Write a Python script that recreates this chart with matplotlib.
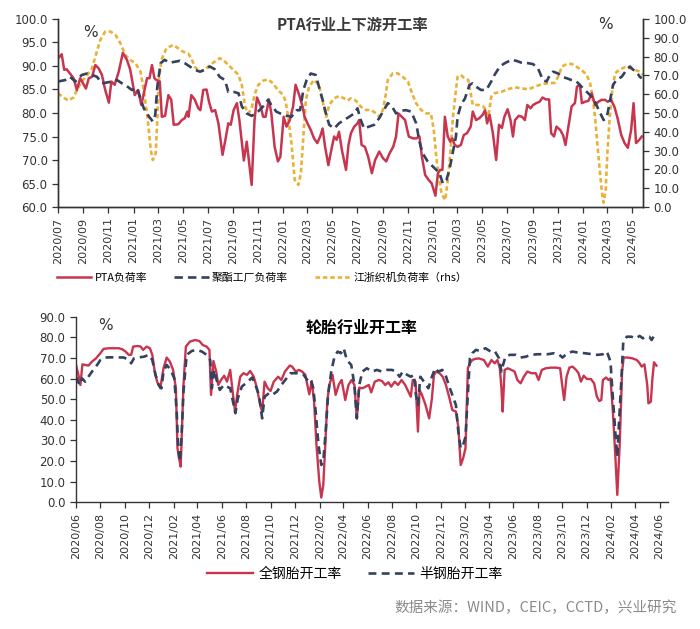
import matplotlib
matplotlib.use("Agg")
import matplotlib.pyplot as plt
import matplotlib.dates as mdates
import pandas as pd

plt.rcParams['font.family'] = ['DejaVu Sans', 'Noto Sans CJK SC']
CJK = ['Noto Sans CJK SC', 'DejaVu Sans']

# ---------------- top chart data ----------------
pta_dates = ["2020-07-01","2020-07-10","2020-07-16","2020-07-22","2020-07-30","2020-08-08","2020-08-16","2020-08-24",
"2020-09-02","2020-09-07","2020-09-14","2020-09-22","2020-09-30","2020-10-08","2020-10-16","2020-10-24","2020-11-02",
"2020-11-08","2020-11-16","2020-11-26","2020-12-06","2020-12-16","2020-12-24","2021-01-04","2021-01-12","2021-01-20",
"2021-01-28","2021-02-03","2021-02-09","2021-02-15","2021-02-21","2021-02-26","2021-03-06","2021-03-11","2021-03-19",
"2021-03-27","2021-04-03","2021-04-09","2021-04-20","2021-04-29","2021-05-06","2021-05-12","2021-05-15","2021-05-22",
"2021-05-30","2021-06-08","2021-06-13","2021-06-20","2021-06-28","2021-07-04","2021-07-11","2021-07-19","2021-07-27",
"2021-08-06","2021-08-13","2021-08-20","2021-08-26","2021-09-02","2021-09-10","2021-09-16","2021-09-27","2021-10-04",
"2021-10-16","2021-10-23","2021-10-29","2021-11-07","2021-11-13","2021-11-19","2021-11-27","2021-12-03","2021-12-11",
"2021-12-19","2021-12-25","2022-01-02","2022-01-09","2022-01-17","2022-01-25","2022-01-31","2022-02-09","2022-02-17",
"2022-02-22","2022-03-01","2022-03-09","2022-03-17","2022-03-25","2022-04-01","2022-04-07","2022-04-13","2022-04-21",
"2022-04-29","2022-05-05","2022-05-11","2022-05-17","2022-05-24","2022-06-03","2022-06-09","2022-06-15","2022-06-23",
"2022-07-01","2022-07-05","2022-07-11","2022-07-19","2022-07-27","2022-08-05","2022-08-13","2022-08-23","2022-09-01",
"2022-09-09","2022-09-17","2022-09-26","2022-10-03","2022-10-09","2022-10-17","2022-10-25","2022-11-03","2022-11-13",
"2022-11-21","2022-11-29","2022-12-05","2022-12-13","2022-12-21","2022-12-29","2023-01-07","2023-01-13","2023-01-19",
"2023-01-24","2023-01-30","2023-02-06","2023-02-12","2023-02-17","2023-02-23","2023-03-02","2023-03-10","2023-03-17",
"2023-03-25","2023-04-03","2023-04-08","2023-04-16","2023-04-24","2023-05-02","2023-05-08","2023-05-13","2023-05-19",
"2023-05-27","2023-06-04","2023-06-11","2023-06-18","2023-06-24","2023-07-02","2023-07-09","2023-07-15","2023-07-20",
"2023-07-29","2023-08-06","2023-08-13","2023-08-19","2023-08-27","2023-09-02","2023-09-10","2023-09-18","2023-09-25",
"2023-10-03","2023-10-11","2023-10-16","2023-10-23","2023-10-29","2023-11-07","2023-11-14","2023-11-20","2023-11-28",
"2023-12-05","2023-12-13","2023-12-18","2023-12-25","2023-12-30","2024-01-07","2024-01-15","2024-01-23","2024-01-31",
"2024-02-08","2024-02-16","2024-02-24","2024-03-02","2024-03-10","2024-03-18","2024-03-26","2024-04-04","2024-04-12",
"2024-04-20","2024-04-28","2024-05-04","2024-05-10","2024-05-18","2024-05-24"]
pta_vals = [91.6,92.5,89.2,89.3,88.4,87.4,84.9,87.4,86.0,85.2,87.4,87.7,90.2,89.5,88.1,84.9,82.2,86.7,86.0,88.8,92.8,91.3,
89.2,83.8,84.9,81.7,84.9,87.4,87.4,90.2,87.4,87.0,86.7,79.2,79.4,83.8,82.8,77.5,77.6,78.5,78.9,80.3,79.2,83.8,82.9,81.0,
80.6,84.9,85.0,82.4,80.3,80.6,77.8,71.1,74.3,77.8,77.5,80.6,82.1,78.5,69.9,73.9,64.7,78.5,83.3,81.4,79.2,79.2,82.9,79.9,
72.8,69.7,70.7,79.2,77.1,78.5,81.4,86.0,83.8,81.4,79.2,77.8,76.4,74.6,73.6,75.0,76.7,72.8,68.9,72.5,75.0,74.3,76.0,72.1,
67.9,73.2,75.7,77.1,77.8,78.5,73.2,72.8,70.7,67.2,70.0,71.8,70.4,69.7,71.4,72.8,75.0,79.9,79.2,78.5,75.0,74.6,74.6,75.0,
70.7,66.8,65.8,65.0,62.4,67.2,67.9,67.9,79.2,75.0,73.9,74.6,73.2,72.8,73.2,75.3,75.7,77.1,80.3,78.5,78.9,79.6,80.6,77.8,
79.6,75.7,70.0,77.5,76.8,79.2,80.8,78.5,75.0,78.5,79.4,79.2,78.5,81.7,81.0,81.7,82.1,82.4,83.3,82.9,82.9,75.7,75.0,77.1,
76.4,75.3,73.2,77.5,81.4,82.1,85.6,86.0,82.1,82.4,82.6,84.2,81.7,82.4,82.8,82.8,82.4,82.8,81.4,78.9,75.3,73.6,72.6,76.4,
82.1,73.6,74.3,75.0]

poly_dates = ["2020-07-01","2020-07-18","2020-07-30","2020-08-12","2020-08-28","2020-09-10","2020-09-22","2020-10-04",
"2020-10-16","2020-10-28","2020-11-10","2020-11-22","2020-12-04","2020-12-16","2020-12-28","2021-01-10","2021-01-18",
"2021-01-26","2021-02-08","2021-02-17","2021-02-23","2021-02-28","2021-03-08","2021-03-18","2021-03-30","2021-04-12",
"2021-04-24","2021-05-06","2021-05-18","2021-05-30","2021-06-12","2021-06-24","2021-07-06","2021-07-18","2021-07-30",
"2021-08-12","2021-08-20","2021-09-02","2021-09-14","2021-09-22","2021-10-04","2021-10-16","2021-10-27","2021-11-13",
"2021-11-25","2021-12-03","2021-12-15","2021-12-27","2022-01-09","2022-01-21","2022-02-03","2022-02-11","2022-02-19",
"2022-02-27","2022-03-09","2022-03-21","2022-03-29","2022-04-07","2022-04-15","2022-04-23","2022-05-05","2022-05-17",
"2022-05-29","2022-06-11","2022-06-23","2022-07-01","2022-07-09","2022-07-17","2022-07-29","2022-08-11","2022-08-23",
"2022-09-01","2022-09-13","2022-09-23","2022-10-03","2022-10-15","2022-10-27","2022-11-09","2022-11-21","2022-11-29",
"2022-12-07","2022-12-19","2023-01-01","2023-01-09","2023-01-17","2023-01-25","2023-02-03","2023-02-10","2023-02-18",
"2023-02-26","2023-03-02","2023-03-10","2023-03-20","2023-03-31","2023-04-08","2023-04-16","2023-04-28","2023-05-11",
"2023-05-23","2023-05-31","2023-06-13","2023-06-25","2023-07-11","2023-07-23","2023-08-05","2023-08-21","2023-09-02",
"2023-09-14","2023-09-26","2023-10-05","2023-10-13","2023-10-21","2023-11-02","2023-11-11","2023-11-23","2023-12-05",
"2023-12-17","2023-12-29","2024-01-11","2024-01-19","2024-01-27","2024-02-05","2024-02-13","2024-02-21","2024-02-29",
"2024-03-07","2024-03-15","2024-03-23","2024-04-05","2024-04-17","2024-04-25","2024-05-03","2024-05-11","2024-05-19",
"2024-05-24"]
poly_vals = [86.7,87.0,87.7,86.7,88.1,88.4,88.1,87.7,86.3,86.5,86.7,87.0,86.3,85.7,84.9,85.3,83.1,81.0,79.2,78.2,79.6,
85.6,90.6,91.3,90.7,90.9,91.1,90.6,89.9,89.2,88.8,89.2,89.9,89.3,87.7,87.0,84.5,84.5,84.2,81.4,79.9,79.4,79.9,81.4,82.8,
81.7,80.3,79.8,79.4,79.2,80.6,80.6,84.9,87.0,88.4,88.1,85.6,82.8,79.9,77.5,76.7,77.8,78.5,79.2,79.9,81.0,78.5,76.7,77.1,
77.5,78.9,80.3,82.1,81.4,79.9,80.5,80.6,80.3,77.8,73.9,71.4,69.7,68.6,67.9,67.2,65.0,65.8,67.9,71.4,75.0,79.2,81.7,83.1,
86.0,86.3,85.6,84.9,84.9,86.7,88.1,89.9,90.6,91.3,91.1,90.7,90.6,90.4,89.5,87.0,86.7,88.1,88.8,88.4,87.7,87.4,87.0,86.7,
85.6,84.5,83.8,83.1,81.4,79.9,78.5,79.2,82.4,86.0,87.0,87.7,89.2,89.9,89.2,88.8,87.7,87.4]

loom_dates = ["2020-07-01","2020-07-14","2020-07-26","2020-08-08","2020-08-16","2020-08-28","2020-09-10","2020-09-22",
"2020-09-30","2020-10-12","2020-10-24","2020-11-06","2020-11-18","2020-11-30","2020-12-12","2020-12-24","2021-01-06",
"2021-01-18","2021-01-26","2021-02-04","2021-02-12","2021-02-17","2021-02-24","2021-02-28","2021-03-03","2021-03-10",
"2021-03-22","2021-04-08","2021-04-20","2021-05-02","2021-05-14","2021-05-22","2021-05-30","2021-06-12","2021-06-24",
"2021-07-06","2021-07-18","2021-07-30","2021-08-08","2021-08-20","2021-09-02","2021-09-14","2021-09-22","2021-09-30",
"2021-10-08","2021-10-16","2021-10-23","2021-11-01","2021-11-13","2021-11-25","2021-12-07","2021-12-19","2022-01-01",
"2022-01-07","2022-01-13","2022-01-21","2022-01-29","2022-02-07","2022-02-13","2022-02-19","2022-02-25","2022-03-05",
"2022-03-17","2022-03-29","2022-04-08","2022-04-16","2022-04-23","2022-05-05","2022-05-17","2022-05-29","2022-06-07",
"2022-06-15","2022-06-27","2022-07-09","2022-07-21","2022-08-03","2022-08-15","2022-08-23","2022-09-01","2022-09-07",
"2022-09-13","2022-09-25","2022-10-07","2022-10-19","2022-11-01","2022-11-11","2022-11-21","2022-12-03","2022-12-15",
"2022-12-27","2023-01-03","2023-01-09","2023-01-15","2023-01-21","2023-01-26","2023-01-31","2023-02-07","2023-02-13",
"2023-02-18","2023-02-25","2023-03-02","2023-03-10","2023-03-19","2023-03-28","2023-04-03","2023-04-08","2023-04-21",
"2023-05-02","2023-05-11","2023-05-16","2023-05-23","2023-05-31","2023-06-17","2023-07-02","2023-07-19","2023-08-05",
"2023-08-21","2023-09-07","2023-09-23","2023-10-09","2023-10-25","2023-11-02","2023-11-11","2023-11-23","2023-12-05",
"2023-12-17","2023-12-29","2024-01-11","2024-01-19","2024-01-25","2024-01-31","2024-02-07","2024-02-13","2024-02-18",
"2024-02-21","2024-02-26","2024-03-01","2024-03-07","2024-03-13","2024-03-20","2024-03-31","2024-04-13","2024-04-25",
"2024-05-07","2024-05-19","2024-05-27"]
loom_vals = [60.5,58.3,56.6,58.3,62.2,66.7,70.2,73.8,80.0,88.8,93.3,93.3,91.5,87.1,80.9,78.2,76.4,72.0,62.2,48.0,30.3,
25.0,28.5,46.3,65.8,78.2,84.4,86.2,84.4,82.6,81.7,79.1,74.6,72.0,72.9,75.5,77.3,79.1,78.2,75.5,72.9,70.2,64.9,53.4,49.8,
52.5,59.6,64.9,67.2,67.9,65.8,62.2,59.6,56.0,48.0,33.9,14.4,11.7,17.9,37.4,56.9,64.0,67.6,64.9,55.1,48.0,54.3,57.8,59.0,
57.8,56.6,57.8,56.6,53.4,51.6,51.6,49.8,48.0,51.6,58.7,67.6,71.1,71.1,69.3,66.7,60.5,55.1,51.6,49.8,49.8,41.0,26.8,16.1,
8.2,5.5,3.7,16.1,30.3,46.3,60.5,69.3,70.2,68.4,67.6,60.5,54.3,54.3,53.7,51.6,48.0,58.7,60.5,61.3,62.6,63.7,63.1,62.6,
64.0,65.4,65.8,66.1,69.3,74.6,76.1,76.1,74.6,72.9,70.2,65.8,58.7,48.0,30.3,16.1,5.5,2.3,9.0,28.5,48.0,62.2,71.1,73.2,
74.3,73.8,72.9,72.0,70.2]

# ---------------- bottom chart data ----------------
allsteel_dates = ["2020-06-01","2020-06-08","2020-06-12","2020-06-17","2020-06-24","2020-07-02","2020-07-11","2020-07-21",
"2020-08-01","2020-08-09","2020-08-22","2020-09-04","2020-09-16","2020-09-25","2020-10-03","2020-10-11","2020-10-17",
"2020-10-22","2020-11-02","2020-11-10","2020-11-16","2020-11-25","2020-12-03","2020-12-09","2020-12-15","2020-12-21",
"2020-12-29","2021-01-06","2021-01-14","2021-01-22","2021-01-30","2021-02-06","2021-02-10","2021-02-14","2021-02-18",
"2021-02-21","2021-02-25","2021-03-03","2021-03-13","2021-03-26","2021-04-06","2021-04-14","2021-04-24","2021-05-01",
"2021-05-05","2021-05-11","2021-05-18","2021-05-23","2021-05-30","2021-06-07","2021-06-14","2021-06-22","2021-06-29",
"2021-07-04","2021-07-10","2021-07-17","2021-07-25","2021-08-03","2021-08-11","2021-08-20","2021-08-28","2021-09-06",
"2021-09-10","2021-09-16","2021-09-24","2021-10-01","2021-10-09","2021-10-20","2021-10-28","2021-11-06","2021-11-18",
"2021-11-24","2021-12-03","2021-12-11","2021-12-19","2021-12-27","2022-01-06","2022-01-12","2022-01-18","2022-01-24",
"2022-01-31","2022-02-05","2022-02-10","2022-02-15","2022-02-20","2022-02-25","2022-03-05","2022-03-13","2022-03-21",
"2022-03-28","2022-04-06","2022-04-14","2022-04-22","2022-04-29","2022-05-05","2022-05-11","2022-05-19","2022-05-27",
"2022-06-04","2022-06-10","2022-06-19","2022-06-29","2022-07-07","2022-07-15","2022-07-23","2022-07-30","2022-08-08",
"2022-08-16","2022-08-25","2022-09-03","2022-09-11","2022-09-17","2022-09-22","2022-09-29","2022-10-05","2022-10-09",
"2022-10-15","2022-10-24","2022-11-02","2022-11-09","2022-11-14","2022-11-20","2022-11-28","2022-12-06","2022-12-14",
"2022-12-23","2022-12-30","2023-01-08","2023-01-14","2023-01-20","2023-01-26","2023-02-01","2023-02-07","2023-02-12",
"2023-02-18","2023-02-25","2023-03-06","2023-03-19","2023-03-29","2023-04-07","2023-04-15","2023-04-22","2023-04-28",
"2023-05-02","2023-05-05","2023-05-10","2023-05-18","2023-05-27","2023-06-04","2023-06-11","2023-06-19","2023-06-27",
"2023-07-06","2023-07-16","2023-07-27","2023-08-03","2023-08-11","2023-08-21","2023-09-03","2023-09-16","2023-09-26",
"2023-10-01","2023-10-06","2023-10-12","2023-10-19","2023-10-27","2023-11-05","2023-11-11","2023-11-17","2023-11-24",
"2023-12-02","2023-12-12","2023-12-20","2023-12-27","2024-01-02","2024-01-07","2024-01-11","2024-01-19","2024-01-25",
"2024-01-30","2024-02-05","2024-02-11","2024-02-16","2024-02-22","2024-02-28","2024-03-03","2024-03-13","2024-03-25",
"2024-04-05","2024-04-12","2024-04-17","2024-04-24","2024-05-01","2024-05-04","2024-05-10","2024-05-14","2024-05-18",
"2024-05-24"]
allsteel_vals = [66.6,60.9,56.9,66.9,66.6,66.3,68.2,69.8,72.3,74.4,74.7,74.7,74.7,74.2,73.1,71.5,71.5,75.5,75.8,75.5,
73.9,75.5,74.7,71.5,63.4,58.5,55.3,65.0,70.2,68.2,64.2,55.3,26.2,21.3,17.3,34.3,56.9,75.5,77.9,78.7,78.2,76.3,75.5,73.9,
52.1,68.5,63.4,56.9,59.3,61.4,58.5,64.2,52.1,44.0,52.9,60.9,62.6,61.8,63.7,60.9,55.3,46.4,44.0,58.5,55.3,54.0,58.5,60.9,
59.3,63.4,66.3,65.8,63.4,64.2,63.4,61.8,52.4,58.8,48.8,27.8,10.0,2.3,8.4,27.8,48.8,56.9,61.8,52.1,57.2,59.3,49.6,56.9,
59.3,56.9,40.7,55.6,55.3,56.1,56.9,53.3,58.5,59.3,58.8,56.9,58.2,56.1,58.5,56.9,59.3,56.9,53.7,51.2,59.3,58.5,34.3,54.5,
52.1,47.2,40.7,50.4,61.8,63.4,62.6,60.9,56.9,50.4,44.8,44.0,36.7,18.1,21.3,26.2,65.0,67.4,69.0,69.5,69.8,69.0,65.8,69.0,
67.4,69.0,65.0,55.3,44.0,64.2,65.0,64.2,63.4,59.3,57.7,60.9,63.4,62.6,62.6,59.3,64.2,65.0,65.3,65.3,65.0,56.9,49.6,60.9,
65.3,65.8,64.2,62.6,58.5,61.4,59.8,59.8,57.7,51.2,49.1,49.6,59.3,60.5,59.3,60.1,44.0,23.0,3.6,27.8,63.4,70.2,70.2,69.8,
69.0,67.4,65.8,66.9,56.9,48.0,48.8,60.1,67.9,66.3]

semisteel_dates = ["2020-06-01","2020-06-10","2020-06-16","2020-06-24","2020-07-02","2020-07-11","2020-07-21","2020-08-01",
"2020-08-13","2020-08-26","2020-09-12","2020-09-29","2020-10-11","2020-10-17","2020-10-24","2020-11-06","2020-11-18",
"2020-11-30","2020-12-09","2020-12-17","2020-12-25","2021-01-01","2021-01-06","2021-01-14","2021-01-24","2021-02-02",
"2021-02-08","2021-02-12","2021-02-16","2021-02-20","2021-02-25","2021-03-05","2021-03-18","2021-03-30","2021-04-12",
"2021-04-24","2021-05-03","2021-05-07","2021-05-13","2021-05-19","2021-05-27","2021-06-06","2021-06-14","2021-06-22",
"2021-06-29","2021-07-05","2021-07-11","2021-07-21","2021-08-03","2021-08-16","2021-08-24","2021-09-02","2021-09-10",
"2021-09-16","2021-09-27","2021-10-05","2021-10-17","2021-10-28","2021-11-10","2021-11-20","2021-12-01","2021-12-11",
"2021-12-23","2022-01-04","2022-01-10","2022-01-16","2022-01-22","2022-01-29","2022-02-05","2022-02-10","2022-02-16",
"2022-02-22","2022-03-02","2022-03-10","2022-03-18","2022-03-26","2022-04-02","2022-04-10","2022-04-21","2022-04-29",
"2022-05-05","2022-05-11","2022-05-19","2022-05-30","2022-06-12","2022-06-24","2022-07-07","2022-07-19","2022-08-01",
"2022-08-11","2022-08-20","2022-08-28","2022-09-08","2022-09-17","2022-09-25","2022-09-30","2022-10-05","2022-10-11",
"2022-10-20","2022-10-31","2022-11-09","2022-11-17","2022-11-25","2022-12-05","2022-12-13","2022-12-21","2022-12-30",
"2023-01-08","2023-01-14","2023-01-20","2023-01-26","2023-02-01","2023-02-07","2023-02-12","2023-02-18","2023-02-27",
"2023-03-10","2023-03-23","2023-04-05","2023-04-15","2023-04-26","2023-05-02","2023-05-06","2023-05-12","2023-05-23",
"2023-06-07","2023-06-19","2023-07-02","2023-07-14","2023-07-31","2023-08-13","2023-08-25","2023-09-11","2023-09-24",
"2023-10-02","2023-10-14","2023-10-27","2023-11-09","2023-11-26","2023-12-12","2023-12-29","2024-01-11","2024-01-21",
"2024-01-30","2024-02-05","2024-02-11","2024-02-16","2024-02-20","2024-02-26","2024-03-02","2024-03-11","2024-03-22",
"2024-04-03","2024-04-12","2024-04-20","2024-04-28","2024-05-06","2024-05-12","2024-05-18","2024-05-24"]
semisteel_vals = [60.9,56.9,60.1,58.5,60.9,63.4,65.8,69.0,70.2,70.3,70.3,70.2,69.0,67.4,69.8,70.3,70.6,71.5,69.0,61.8,
56.9,55.3,63.4,66.6,64.2,60.1,44.0,26.2,19.7,31.0,53.7,71.5,73.4,73.9,73.1,71.5,69.0,55.3,64.2,59.3,54.5,56.9,56.1,55.3,
48.8,43.2,50.4,56.1,58.2,60.5,56.9,52.1,40.7,51.2,52.9,52.1,53.7,56.9,60.1,62.6,62.6,62.6,61.8,58.5,59.3,55.3,44.0,27.8,
18.1,19.7,34.3,52.1,63.4,70.6,73.1,72.3,74.7,69.0,66.6,56.9,40.7,56.9,63.4,65.0,63.4,64.2,63.4,64.2,64.2,63.4,60.9,63.4,
61.8,60.9,61.8,52.1,47.2,60.9,58.5,55.3,60.9,65.0,63.4,64.2,61.8,56.9,52.1,47.2,34.3,26.2,27.8,31.8,52.1,69.8,72.3,73.9,
73.4,74.7,73.1,73.4,69.8,63.4,66.6,70.6,71.5,71.5,70.2,70.6,71.5,71.8,71.8,71.8,72.3,71.5,70.2,72.3,73.1,72.6,72.3,71.9,
71.5,71.8,73.1,68.2,50.4,34.3,22.1,37.5,58.5,77.9,80.3,80.3,79.5,80.7,79.5,80.3,80.3,78.7,80.8,81.2]

top_title = "PTA行业上下游开工率"
bottom_title = "轮胎行业开工率"
top_labels = ["PTA负荷率", "聚酯工厂负荷率", "江浙织机负荷率（rhs）"]
bottom_labels = ["全钢胎开工率", "半钢胎开工率"]
source_text = "数据来源：WIND，CEIC，CCTD，兴业研究"

RED = "#C7354F"
NAVY = "#34425E"
GOLD = "#E9B138"
AXC = "#333333"

fig = plt.figure(figsize=(7.0, 6.29), dpi=100)

def style_axis(ax):
    ax.tick_params(axis='both', direction='out', length=4, width=0.9, colors=AXC, labelsize=8.5)
    for s in ax.spines.values():
        s.set_color(AXC)
        s.set_linewidth(1.0)

# ---------------- top chart ----------------
ax = fig.add_axes([0.0829, 0.6709, 0.8357, 0.2989])
ax2 = ax.twinx()
ax.set_zorder(ax2.get_zorder() + 1)
ax.patch.set_visible(False)

d_pta = pd.to_datetime(pta_dates)
d_poly = pd.to_datetime(poly_dates)
d_loom = pd.to_datetime(loom_dates)

l1, = ax.plot(d_pta, pta_vals, color=RED, lw=1.8, solid_joinstyle='round')
l2, = ax.plot(d_poly, poly_vals, color=NAVY, lw=1.9, dashes=(3.2, 1.9))
l3, = ax2.plot(d_loom, loom_vals, color=GOLD, lw=1.9, dashes=(1.7, 1.1))

ax.set_ylim(60, 100)
ax.set_yticks(range(60, 101, 5))
ax.set_yticklabels([f"{v:.1f}" for v in range(60, 101, 5)])
ax2.set_ylim(0, 100)
ax2.set_yticks(range(0, 101, 10))
ax2.set_yticklabels([f"{v:.1f}" for v in range(0, 101, 10)])
ax.set_xlim(pd.Timestamp("2020-07-01"), pd.Timestamp("2024-05-27"))
ax.xaxis.set_major_locator(mdates.MonthLocator(bymonth=[1, 3, 5, 7, 9, 11]))
ax.xaxis.set_major_formatter(mdates.DateFormatter("%Y/%m"))
for a in (ax, ax2):
    style_axis(a)
    a.spines['top'].set_visible(False)
ax.tick_params(axis='x', labelrotation=90, labelsize=8)
ax.text(0.055, 0.93, "%", transform=ax.transAxes, fontsize=11, color=AXC, ha='center', va='center')
ax.text(0.935, 0.97, "%", transform=ax.transAxes, fontsize=11, color=AXC, ha='center', va='center')
fig.text(0.503, 0.961, top_title, fontsize=11, fontweight='bold', color='#3a3a3a',
         ha='center', va='center', family=CJK)

fig.legend([l1, l2, l3], top_labels, loc='center', bbox_to_anchor=(0.374, 0.559), ncol=3,
           frameon=False, prop={'family': CJK, 'size': 7.8}, handlelength=3.2, handletextpad=0.3,
           columnspacing=2.5)

# ---------------- bottom chart ----------------
bx = fig.add_axes([0.1086, 0.2014, 0.8457, 0.2951])
d_all = pd.to_datetime(allsteel_dates)
d_semi = pd.to_datetime(semisteel_dates)
b1, = bx.plot(d_all, allsteel_vals, color=RED, lw=1.7, solid_joinstyle='round')
b2, = bx.plot(d_semi, semisteel_vals, color=NAVY, lw=1.9, dashes=(3.0, 2.0))
bx.set_ylim(0, 90)
bx.set_yticks(range(0, 91, 10))
bx.set_yticklabels([f"{v:.1f}" for v in range(0, 91, 10)])
bx.set_xlim(pd.Timestamp("2020-06-01"), pd.Timestamp("2024-06-22"))
bx.xaxis.set_major_locator(mdates.MonthLocator(bymonth=[2, 4, 6, 8, 10, 12]))
bx.xaxis.set_major_formatter(mdates.DateFormatter("%Y/%m"))
style_axis(bx)
bx.spines['top'].set_visible(False)
bx.spines['right'].set_visible(False)
bx.tick_params(axis='x', labelrotation=90, labelsize=8)
bx.text(0.05, 0.95, "%", transform=bx.transAxes, fontsize=11, color=AXC, ha='center', va='center')
fig.text(0.516, 0.479, bottom_title, fontsize=11.5, fontweight='bold', color='black',
         ha='center', va='center', family=CJK)

fig.legend([b1, b2], bottom_labels, loc='center', bbox_to_anchor=(0.507, 0.088), ncol=2,
           frameon=False, prop={'family': CJK, 'size': 10}, handlelength=3.3, handletextpad=0.4,
           columnspacing=1.9)

fig.text(0.967, 0.033, source_text, fontsize=10.5, color='#8a8a8a', ha='right', va='center', family=CJK)

fig.savefig("out.png", dpi=100)
